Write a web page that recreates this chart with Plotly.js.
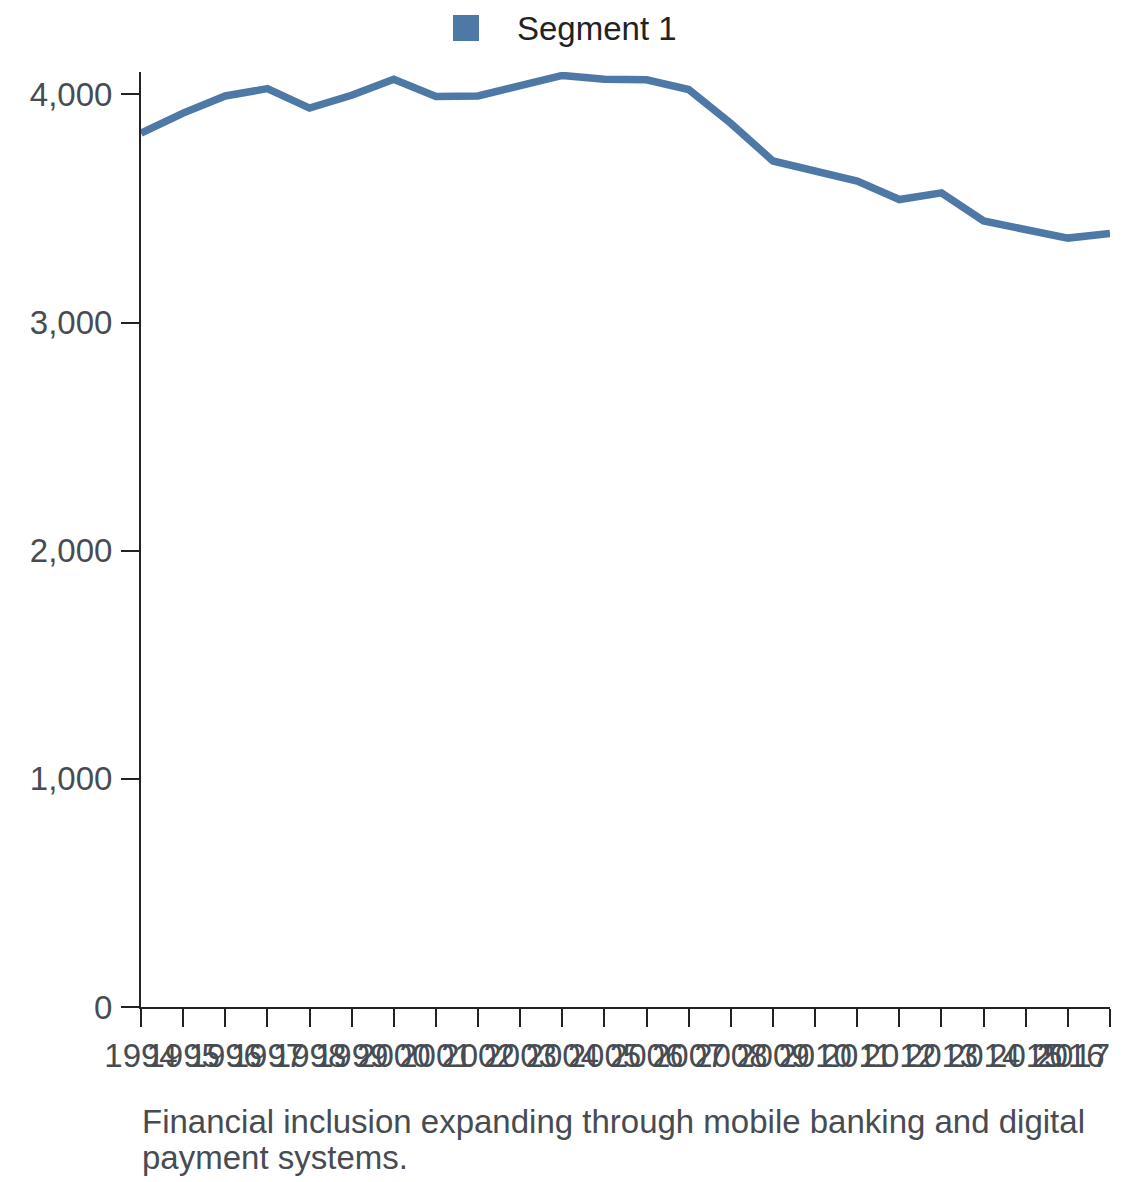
<!DOCTYPE html>
<html>
<head>
<meta charset="utf-8">
<script src="https://cdn.plot.ly/plotly-3.0.1.min.js"></script>
<style>
  html, body { margin: 0; padding: 0; background: #fff; }
  #chart { width: 1140px; height: 1182px; }
</style>
</head>
<body>
<div id="chart"></div>
<script>
const years = [1994, 1995, 1996, 1997, 1998, 1999, 2000, 2001, 2002, 2003, 2004, 2005,
               2006, 2007, 2008, 2009, 2010, 2011, 2012, 2013, 2014, 2015, 2016, 2017]
const segment1 = [3830, 3918, 3993, 4025, 3940, 3996, 4066, 3991, 3993, 4039, 4083, 4066,
                  4064, 4021, 3873, 3708, 3664, 3620, 3539, 3568, 3445, 3404, 3370, 3390]
const seriesName = 'Segment 1'
const yTicks = [0, 1000, 2000, 3000, 4000]
const captionLines = ['Financial inclusion expanding through mobile banking and digital',
                      'payment systems.']

const FONT = 'Liberation Sans, Arial, Helvetica, sans-serif'
const FS = 33
const BLUE = '#4e79a7'
const TEXT_GREY = '#474c52'

// the last label is pulled back inside the plot, like the reference does
let xLabels = years.map(String)
xLabels[xLabels.length - 1] = xLabels[xLabels.length - 1] + '\u00a0'.repeat(8)

let trace = {
    x: years,
    y: segment1,
    type: 'scatter',
    mode: 'lines',
    name: seriesName,
    line: { color: BLUE, width: 7.5 },
    showlegend: false,
    hoverinfo: 'x+y'
}

let axisCommon = {
    showgrid: false,
    zeroline: false,
    showline: true,
    linecolor: '#222',
    linewidth: 2,
    ticks: 'outside',
    ticklen: 18,
    tickwidth: 2,
    tickcolor: '#222',
    tickfont: { family: FONT, size: FS, color: TEXT_GREY }
}

let layout = {
    width: 1140,
    height: 1182,
    margin: { l: 141, r: 30, t: 72, b: 175 },
    paper_bgcolor: '#fff',
    plot_bgcolor: '#fff',
    showlegend: false,
    xaxis: Object.assign({}, axisCommon, {
        type: 'linear',
        range: [years[0], years[years.length - 1]],
        tickvals: years,
        ticktext: xLabels,
        tickangle: 0,
        ticklabeloverflow: 'allow'
    }),
    yaxis: Object.assign({}, axisCommon, {
        // a little headroom so the peak is not cut by the plot clip
        range: [0, Math.max(...segment1) + 15],
        tickvals: yTicks,
        tickformat: ',d',
        ticklabelstandoff: 2
    }),
    // legend swatch drawn by hand so the square can be as big as the reference
    shapes: [{
        type: 'rect', xref: 'paper', yref: 'paper',
        x0: 0.32198, x1: 0.34881, y0: 1.03316, y1: 1.06096,
        fillcolor: BLUE, line: { width: 0 }
    }],
    annotations: [{
        xref: 'paper', yref: 'paper', x: 0.38596, y: 1.04599,
        xanchor: 'left', yanchor: 'middle', showarrow: false,
        text: seriesName, font: { family: FONT, size: FS, color: '#222' }
    }].concat(captionLines.map((line, i) => ({
        xref: 'paper', yref: 'paper', x: 0, y: -0.12246 - i*0.0385,
        xanchor: 'left', yanchor: 'middle', xshift: -1, showarrow: false,
        text: line, font: { family: FONT, size: FS, color: TEXT_GREY }
    })))
}

Plotly.newPlot('chart', [trace], layout, { displayModeBar: false, staticPlot: true })
</script>
</body>
</html>
